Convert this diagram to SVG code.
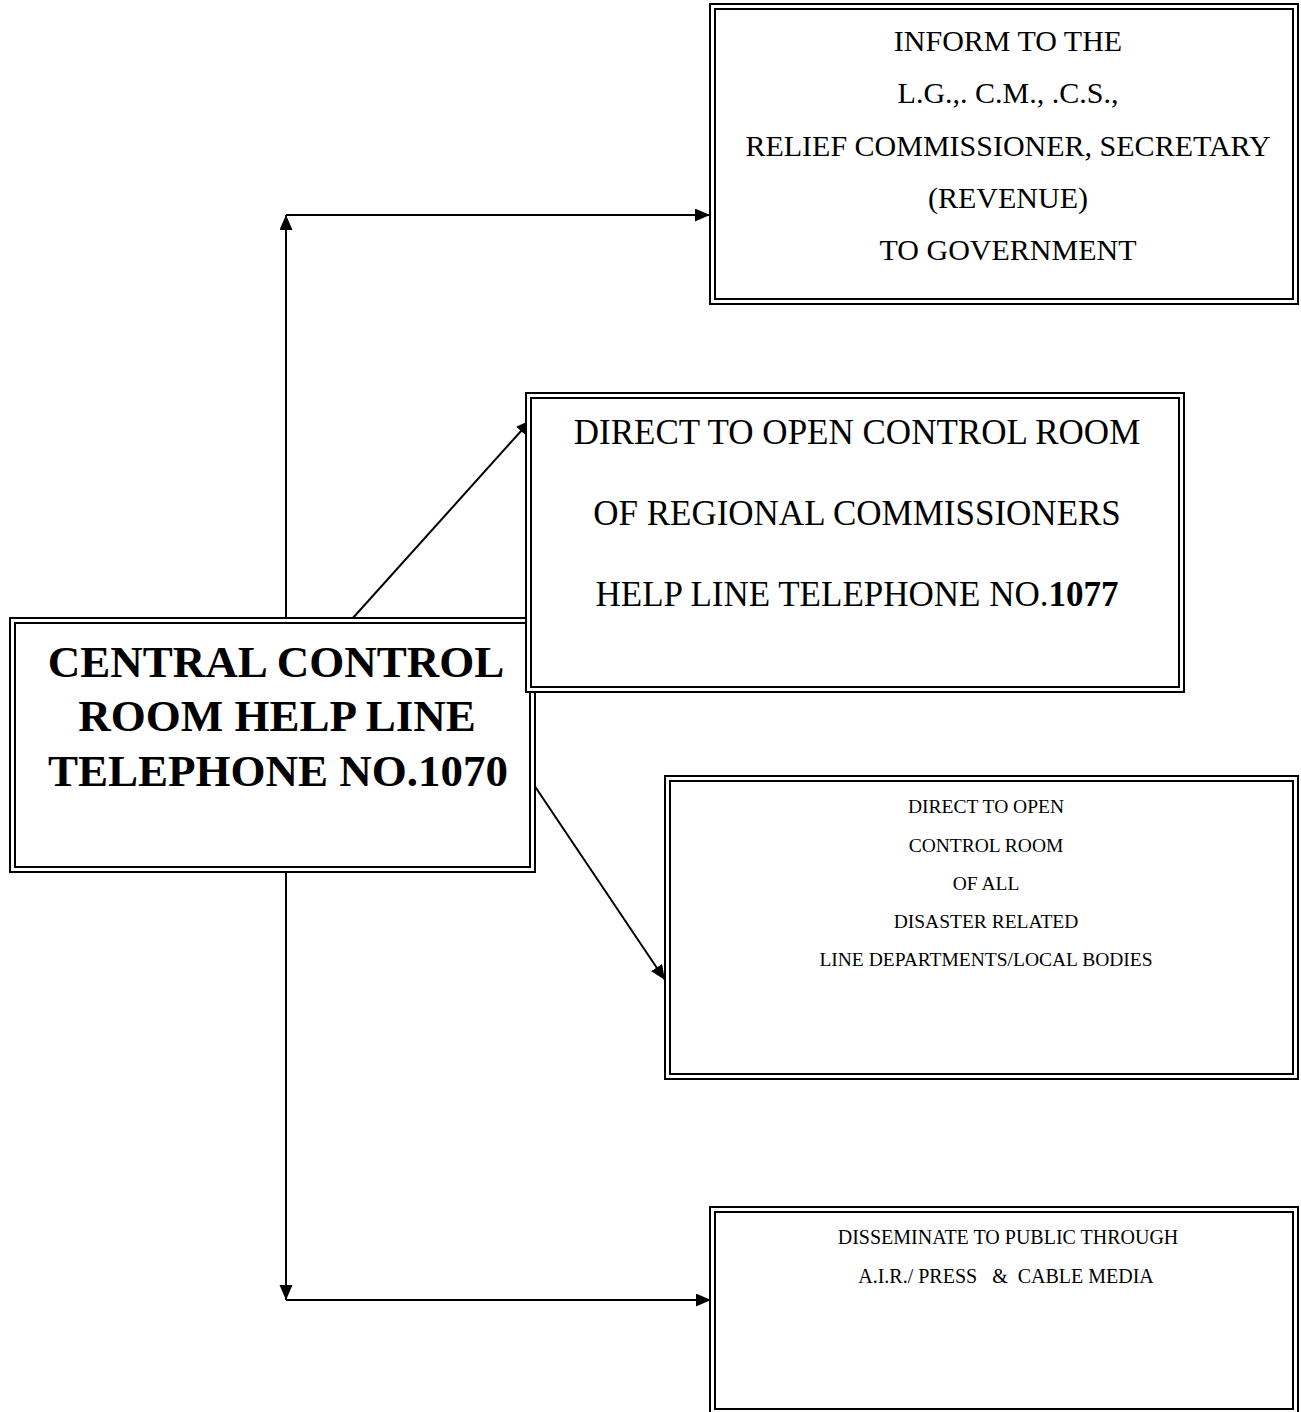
<svg xmlns="http://www.w3.org/2000/svg" width="1301" height="1412" viewBox="0 0 1301 1412">
<style>
.frame{fill:#fff;stroke:#000;stroke-width:2}
.inner{fill:none;stroke:#000;stroke-width:2}
.t{font-family:"Liberation Serif","Times New Roman",serif;fill:#000;text-anchor:middle}
.b{font-weight:bold}
.conn{stroke:#000;stroke-width:2;fill:none}
</style>
<defs>
<marker id="arr" markerUnits="userSpaceOnUse" markerWidth="16" markerHeight="14" refX="15" refY="6.5" orient="auto">
<path d="M0,0 L15,6.5 L0,13 z" fill="#000"/>
</marker>
</defs>
<rect width="1301" height="1412" fill="#fff"/>

<g id="connectors">
<line class="conn" x1="286" y1="617" x2="286" y2="215" marker-end="url(#arr)"/>
<line class="conn" x1="286" y1="215" x2="710" y2="215" marker-end="url(#arr)"/>
<line class="conn" x1="352" y1="619" x2="531" y2="420" marker-end="url(#arr)"/>
<line class="conn" x1="532" y1="782" x2="665" y2="980" marker-end="url(#arr)"/>
<line class="conn" x1="286" y1="872" x2="286" y2="1300" marker-end="url(#arr)"/>
<line class="conn" x1="286" y1="1300" x2="711" y2="1300" marker-end="url(#arr)"/>
</g>

<g id="node-inform">
<rect class="frame" x="710" y="4" width="588" height="300"/>
<rect class="inner" x="715" y="9" width="578" height="290"/>
<text class="t" x="1008" y="51" font-size="30">INFORM TO THE</text>
<text class="t" x="1008" y="103" font-size="30">L.G.,. C.M., .C.S.,</text>
<text class="t" x="1008" y="156" font-size="30">RELIEF COMMISSIONER, SECRETARY</text>
<text class="t" x="1008" y="208" font-size="30">(REVENUE)</text>
<text class="t" x="1008" y="260" font-size="30">TO GOVERNMENT</text>
</g>

<g id="node-central">
<rect class="frame" x="10" y="618" width="525" height="254"/>
<rect class="inner" x="15" y="623" width="515" height="244"/>
<text class="t b" x="276" y="677" font-size="45">CENTRAL CONTROL</text>
<text class="t b" x="277" y="731" font-size="45">ROOM HELP LINE</text>
<text class="t b" x="278" y="786" font-size="45">TELEPHONE NO.1070</text>
</g>

<g id="node-regional">
<rect class="frame" x="526" y="393" width="658" height="299"/>
<rect class="inner" x="531" y="398" width="648" height="289"/>
<text class="t" x="857" y="444" font-size="35">DIRECT TO OPEN CONTROL ROOM</text>
<text class="t" x="857" y="525" font-size="35">OF REGIONAL COMMISSIONERS</text>
<text class="t" x="857" y="606" font-size="35">HELP LINE TELEPHONE NO.<tspan class="b">1077</tspan></text>
</g>

<g id="node-departments">
<rect class="frame" x="665" y="776" width="633" height="303"/>
<rect class="inner" x="670" y="781" width="623" height="293"/>
<text class="t" x="986" y="813" font-size="19.5">DIRECT TO OPEN</text>
<text class="t" x="986" y="852" font-size="19.5">CONTROL ROOM</text>
<text class="t" x="986" y="890" font-size="19.5">OF ALL</text>
<text class="t" x="986" y="928" font-size="19.5">DISASTER RELATED</text>
<text class="t" x="986" y="966" font-size="19.5">LINE DEPARTMENTS/LOCAL BODIES</text>
</g>

<g id="node-public">
<rect class="frame" x="710" y="1207" width="588" height="208"/>
<rect class="inner" x="715" y="1212" width="578" height="197"/>
<text class="t" x="1008" y="1244" font-size="20">DISSEMINATE TO PUBLIC THROUGH</text>
<text class="t" x="1006" y="1283" font-size="20" xml:space="preserve" style="white-space:pre">A.I.R./ PRESS   &amp;  CABLE MEDIA</text>
</g>
</svg>
